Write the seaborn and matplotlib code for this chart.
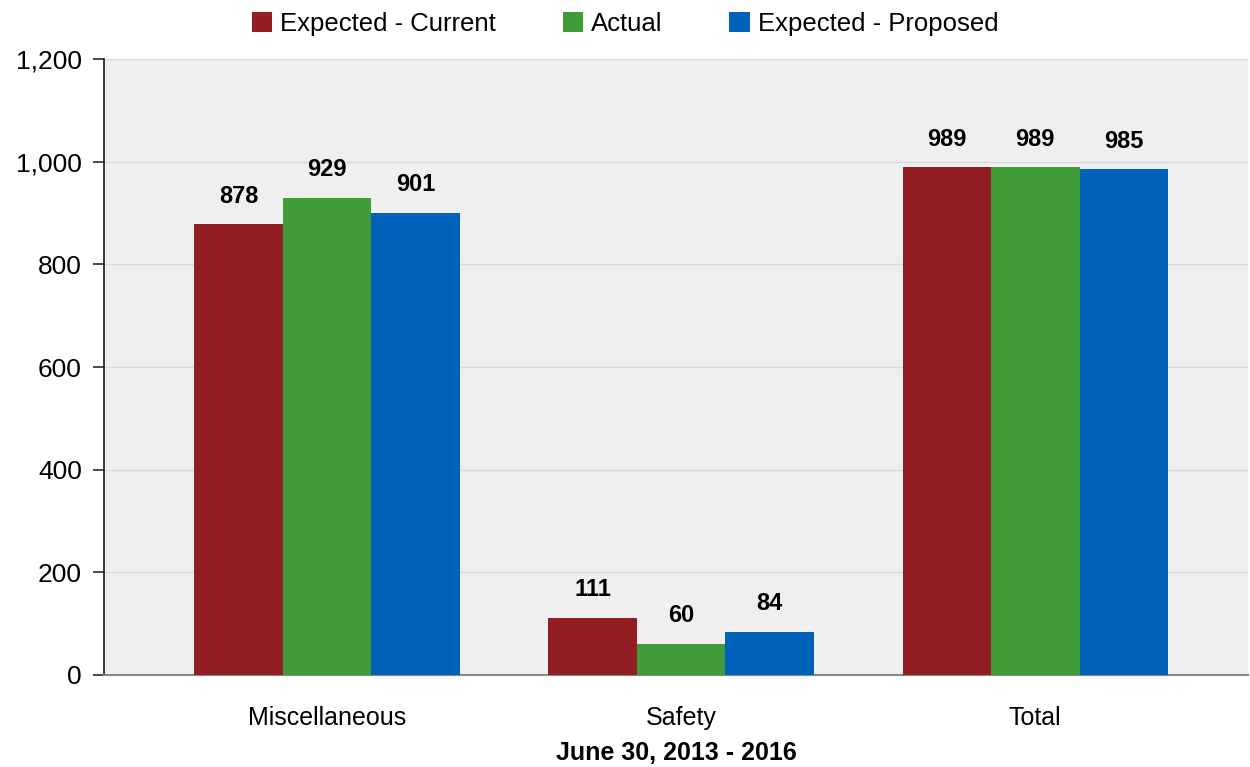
import matplotlib
matplotlib.use("Agg")
import matplotlib.pyplot as plt
import matplotlib.ticker as ticker
import pandas as pd
import seaborn as sns

categories = ["Miscellaneous", "Safety", "Total"]
series = ["Expected - Current", "Actual", "Expected - Proposed"]
expected_current = [878, 111, 989]
actual = [929, 60, 989]
expected_proposed = [901, 84, 985]
colors = ["#921D22", "#409C38", "#0062BB"]

rows = []
for name, vals in zip(series, [expected_current, actual, expected_proposed]):
    for cat, v in zip(categories, vals):
        rows.append({"cat": cat, "series": name, "value": v})
data = pd.DataFrame(rows)

sns.set_theme(style="ticks")
plt.rcParams['font.family'] = ['Liberation Sans', 'DejaVu Sans']
plt.rcParams['text.color'] = 'black'
plt.rcParams['axes.labelcolor'] = 'black'
plt.rcParams['xtick.color'] = 'black'
plt.rcParams['ytick.color'] = 'black'

fig = plt.figure(figsize=(12.5, 7.67), dpi=100)
ax = fig.add_axes([0.0832, 0.12, 0.915, 0.803])
ax.set_facecolor("#EFEFEF")

sns.barplot(data=data, x="cat", y="value", hue="series", hue_order=series,
            order=categories, palette=colors, width=0.75, saturation=1,
            linewidth=0, ax=ax, zorder=3)

for cont in ax.containers:
    ax.bar_label(cont, labels=[f"{v:.0f}" for v in cont.datavalues], padding=12,
                 fontsize=17, fontweight="bold", color="black")

ax.set_xlim(-0.63, 2.6)
ax.set_ylim(0, 1200)
ax.yaxis.set_major_locator(ticker.MultipleLocator(200))
ax.yaxis.set_major_formatter(ticker.FuncFormatter(lambda v, p: f"{v:,.0f}"))
ax.grid(axis="y", color="#D9D9D9", linewidth=1, zorder=0)
ax.set_axisbelow(True)

for s in ["top", "right"]:
    ax.spines[s].set_visible(False)
ax.spines["left"].set_color("#222222")
ax.spines["bottom"].set_color("#888888")
ax.spines["bottom"].set_linewidth(1.5)
ax.tick_params(axis="y", length=8, color="#333333", labelsize=19, pad=8)
ax.tick_params(axis="x", length=0, labelsize=18, pad=22)

ax.set_ylabel("")
ax.set_xlabel("June 30, 2013 - 2016", fontsize=18, fontweight="bold", labelpad=8)

handles, labels = ax.get_legend_handles_labels()
ax.get_legend().remove()
fig.legend(handles, labels, loc="upper center", bbox_to_anchor=(0.5, 1.008), ncol=3,
           frameon=False, fontsize=18.5, handlelength=0.8, handleheight=0.8,
           handletextpad=0.3, columnspacing=2.6, borderaxespad=0.3)

fig.savefig("out.png", dpi=100)
